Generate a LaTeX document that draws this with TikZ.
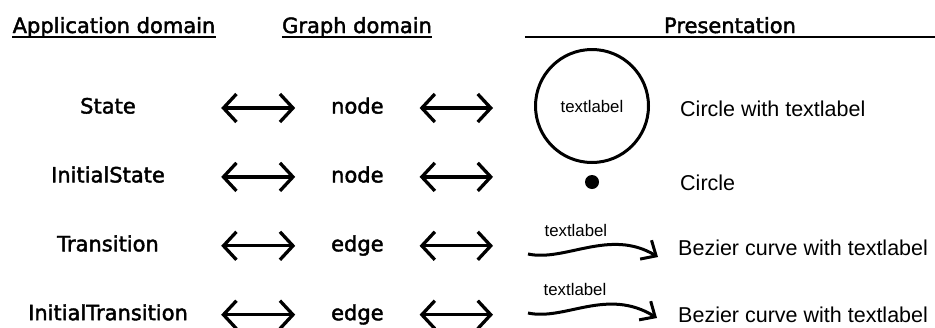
\documentclass[tikz,border=0pt]{standalone}
\usepackage{fontspec}
\setmainfont{DejaVu Sans}
\newfontfamily\domfont[FakeBold=2]{DejaVu Sans}
\newfontfamily\presfont{Liberation Sans}
\usetikzlibrary{arrows.meta, positioning}

\begin{document}
\begin{tikzpicture}[x=1pt, y=-1pt, node distance=49.5pt]
    % Define styles
    \tikzstyle{head} = [inner sep=0pt, text depth=4pt, anchor=base, font=\domfont\fontsize{21}{25}\selectfont]
    \tikzstyle{appdom} = [inner sep=0pt, text height=15pt, text depth=4pt, minimum width=226pt, font=\domfont\fontsize{21}{25}\selectfont]
    \tikzstyle{graphdom} = [inner sep=0pt, text height=15pt, text depth=4pt, minimum width=124pt, font=\domfont\fontsize{21}{25}\selectfont]
    \tikzstyle{pres} = [inner sep=0pt, anchor=base west, font=\presfont\fontsize{21.5}{25}\selectfont]
    \tikzstyle{small} = [inner sep=0pt, font=\presfont\fontsize{16.8}{20}\selectfont]
    \tikzstyle{dblarrow} = [line width=3.3pt, <->, >={Straight Barb[length=13pt, width=28pt]}]
    \tikzstyle{bezier} = [line width=3pt, ->, >={Straight Barb[length=12pt, width=22pt]}]
    \useasboundingbox (0,0) rectangle (935,327);

    % Headers
    \node (hApp) [head] at (114,33) {Application domain};
    \node (hGraph) [head] at (357,33) {Graph domain};
    \node (hPres) [head, minimum width=410pt] at (730,33) {Presentation};
    \draw [line width=2pt] (hApp.south west) -- (hApp.south east);
    \draw [line width=2pt] (hGraph.south west) -- (hGraph.south east);
    \draw [line width=2.5pt] (hPres.south west) -- (hPres.south east);

    % Application domain
    \node (state) [appdom] at (108,108) {State};
    \node (initstate) [appdom, below=of state] {InitialState};
    \node (trans) [appdom, below=of initstate] {Transition};
    \node (inittrans) [appdom, below=of trans] {InitialTransition};

    % Graph domain
    \node (gState) [graphdom, right=74pt of state] {node};
    \node (gInitState) [graphdom, right=74pt of initstate] {node};
    \node (gTrans) [graphdom, right=74pt of trans] {edge};
    \node (gInitTrans) [graphdom, right=74pt of inittrans] {edge};

    % Presentation
    \node (circ) [small, circle, draw, line width=3pt, minimum size=113pt] at (592,106) {textlabel};
    \node (dot) [circle, fill, inner sep=0pt, minimum size=14pt] at (592,182) {};
    \coordinate (bzA) at (528,254);
    \coordinate (bzB) at (658,257);
    \coordinate (bzC) at (528,313);
    \coordinate (bzD) at (657,318);
    \node (pState) [pres] at (680,116) {Circle with textlabel};
    \node (pInitState) [pres] at (680,190) {Circle};
    \node (pTrans) [pres] at (678,255) {Bezier curve with textlabel};
    \node (pInitTrans) [pres] at (678,322) {Bezier curve with textlabel};

    % Arrows
    \draw [dblarrow] (state) -- (gState);
    \draw [dblarrow] (initstate) -- (gInitState);
    \draw [dblarrow] (trans) -- (gTrans);
    \draw [dblarrow] (inittrans) -- (gInitTrans);
    \draw [dblarrow] (gState.east) -- (gState.east -| 493,0);
    \draw [dblarrow] (gInitState.east) -- (gInitState.east -| 493,0);
    \draw [dblarrow] (gTrans.east) -- (gTrans.east -| 493,0);
    \draw [dblarrow] (gInitTrans.east) -- (gInitTrans.east -| 493,0);

    % Bezier curves
    \draw [bezier] (bzA) .. controls (565,262) and (610,228) .. node[small, pos=0.4, above=12pt] (lTrans) {textlabel} (bzB);
    \draw [bezier] (bzC) .. controls (565,321) and (607,287) .. node[small, pos=0.4, above=12pt] (lInitTrans) {textlabel} (bzD);
\end{tikzpicture}
\end{document}
